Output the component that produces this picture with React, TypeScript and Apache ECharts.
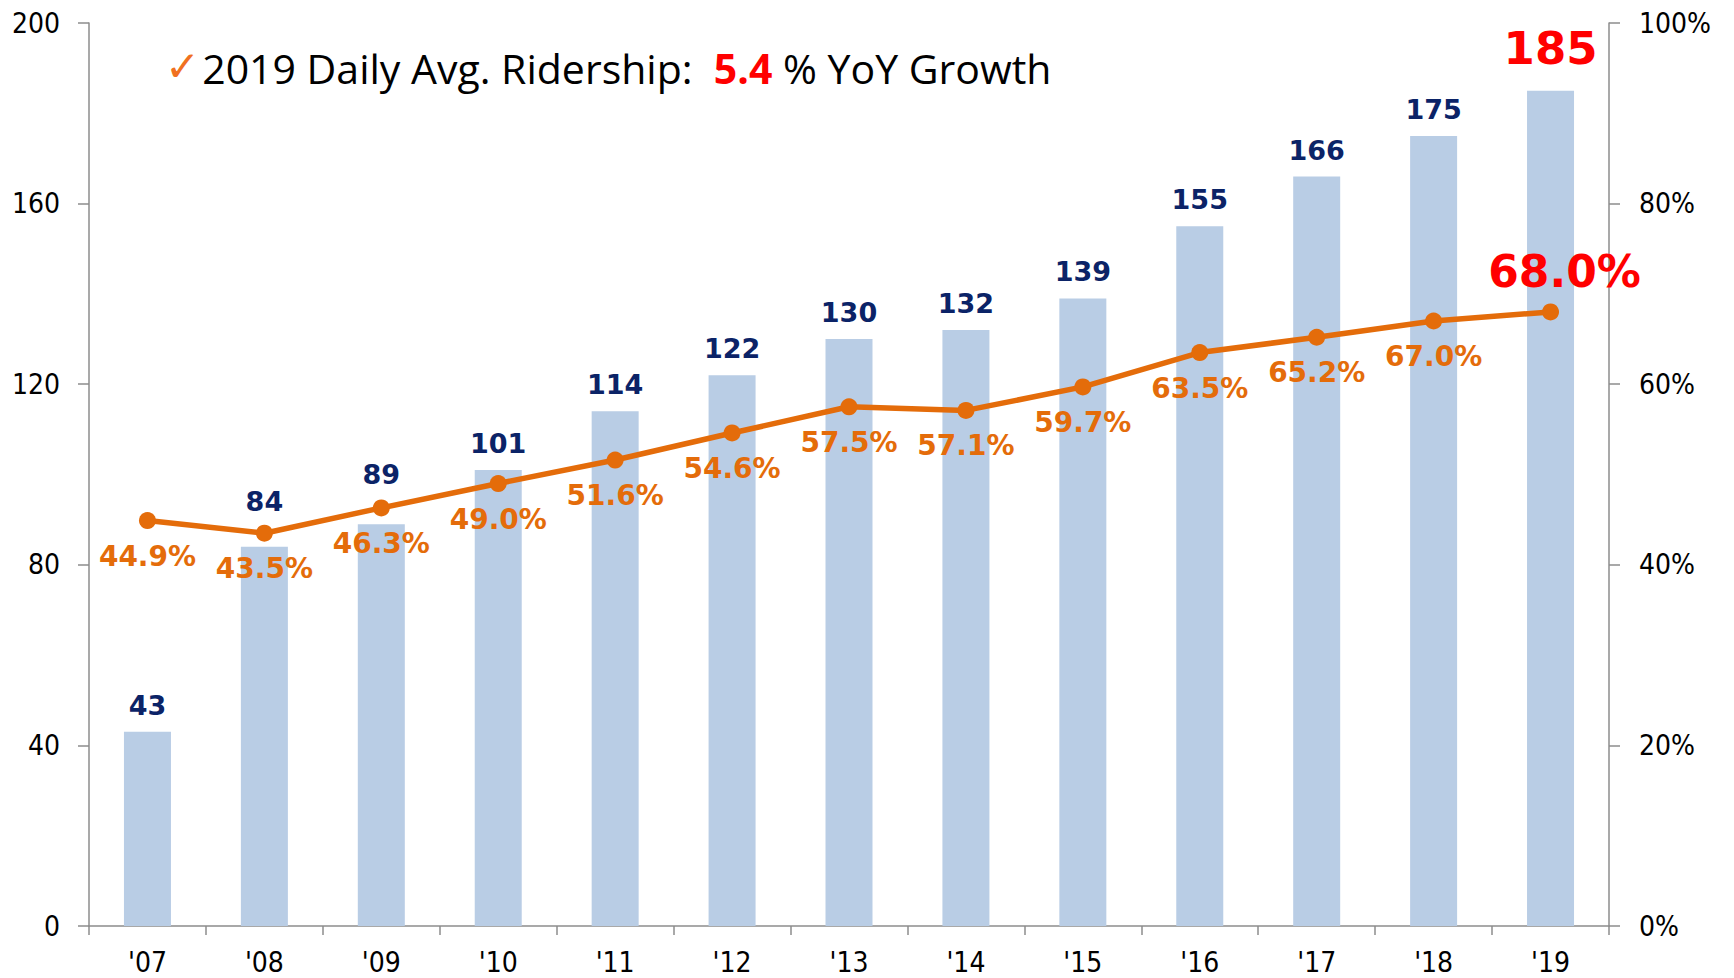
import React, { useEffect, useRef } from "react";
import * as echarts from "echarts";

const years = ["'07", "'08", "'09", "'10", "'11", "'12", "'13", "'14", "'15", "'16", "'17", "'18", "'19"];
const ridership = [43, 84, 89, 101, 114, 122, 130, 132, 139, 155, 166, 175, 185];
const share = [44.9, 43.5, 46.3, 49.0, 51.6, 54.6, 57.5, 57.1, 59.7, 63.5, 65.2, 67.0, 68.0];
const leftTicks = { min: 0, max: 200, interval: 40 };
const rightTicks = { min: 0, max: 100, interval: 20 };
const headline = { pre: "2019 Daily Avg. Ridership:  ", growth: "5.4", post: " % YoY Growth" };

const AXIS_FONT = "'DejaVu Sans Condensed', 'DejaVu Sans', sans-serif";
const BOLD_FONT = "'DejaVu Sans', Verdana, sans-serif";
const TITLE_FONT = "'Open Sans', 'Noto Sans', sans-serif";
const AXIS_COLOR = "#8c8c8c";

// label lifts (px) for bar labels that sit above the line in the original
const barLabelLift: Record<number, number> = { 1: -19, 2: -23 };

export default function App() {
  const ref = useRef<HTMLDivElement>(null);
  useEffect(() => {
    if (!ref.current) return;
    const chart = echarts.init(ref.current, undefined, { renderer: "svg" });
    const last = ridership.length - 1;
    const barData = ridership.map((v, i) => {
      if (i === last) return { value: v, label: { color: "#ff0000", fontSize: 45, distance: 20 } };
      if (barLabelLift[i] !== undefined) return { value: v, label: { offset: [0, barLabelLift[i]] } };
      return v;
    });
    const lineData = share.map((v, i) =>
      i === last
        ? {
            value: v,
            label: {
              position: "top",
              color: "#ff0000",
              fontSize: 44,
              distance: 8,
              offset: [14, -2],
            },
          }
        : v
    );
    chart.setOption({
      animation: false,
      backgroundColor: "#ffffff",
      title: {
        left: 160,
        top: 40,
        text: `{chk|✓}{t|${headline.pre}}{r|${headline.growth}}{t|${headline.post}}`,
        textStyle: {
          fontWeight: "normal",
          rich: {
            chk: { color: "#F07020", fontSize: 42, fontWeight: "normal", fontFamily: "'DejaVu Sans', sans-serif", padding: [0, 2, 4, 0] },
            t: { color: "#000000", fontSize: 41, fontWeight: "normal", fontFamily: TITLE_FONT },
            r: { color: "#ff0000", fontSize: 41, fontWeight: "bold", fontFamily: TITLE_FONT },
          },
        },
      },
      grid: { left: 89, right: 125, top: 23, bottom: 52, containLabel: false },
      xAxis: {
        type: "category",
        data: years,
        boundaryGap: true,
        axisLine: { lineStyle: { color: AXIS_COLOR, width: 1.5 } },
        axisTick: { show: true, length: 9, alignWithLabel: false, lineStyle: { color: AXIS_COLOR, width: 1.5 } },
        axisLabel: { color: "#000", fontSize: 28, fontFamily: AXIS_FONT, margin: 22 },
      },
      yAxis: [
        {
          type: "value",
          min: leftTicks.min,
          max: leftTicks.max,
          interval: leftTicks.interval,
          position: "left",
          axisLine: { show: true, lineStyle: { color: AXIS_COLOR, width: 1.5 } },
          axisTick: { show: true, length: 11, lineStyle: { color: AXIS_COLOR, width: 1.5 } },
          splitLine: { show: false },
          axisLabel: { color: "#000", fontSize: 28, fontFamily: AXIS_FONT, margin: 29 },
        },
        {
          type: "value",
          min: rightTicks.min,
          max: rightTicks.max,
          interval: rightTicks.interval,
          position: "right",
          axisLine: { show: true, lineStyle: { color: AXIS_COLOR, width: 1.5 } },
          axisTick: { show: true, length: 11, lineStyle: { color: AXIS_COLOR, width: 1.5 } },
          splitLine: { show: false },
          axisLabel: { color: "#000", fontSize: 28, fontFamily: AXIS_FONT, margin: 30, formatter: "{value}%" },
        },
      ],
      series: [
        {
          type: "bar",
          data: barData,
          yAxisIndex: 0,
          barWidth: 47,
          itemStyle: { color: "#B9CDE5" },
          label: {
            show: true,
            position: "top",
            distance: 13,
            color: "#0B2367",
            fontSize: 27,
            fontWeight: "bold",
            fontFamily: BOLD_FONT,
          },
          z: 2,
        },
        {
          type: "line",
          data: lineData,
          yAxisIndex: 1,
          symbol: "circle",
          symbolSize: 17,
          lineStyle: { color: "#E46C0A", width: 5.5 },
          itemStyle: { color: "#E46C0A" },
          label: {
            show: true,
            position: "bottom",
            distance: 13,
            color: "#E46C0A",
            fontSize: 28,
            fontWeight: "bold",
            fontFamily: BOLD_FONT,
            formatter: (p: any) => `${Number(p.value).toFixed(1)}%`,
          },
          z: 3,
        },
      ],
    });
    return () => chart.dispose();
  }, []);
  return (
    <div
      ref={ref}
      style={{ position: "fixed", left: 0, top: 0, width: 1734, height: 978 }}
    />
  );
}
